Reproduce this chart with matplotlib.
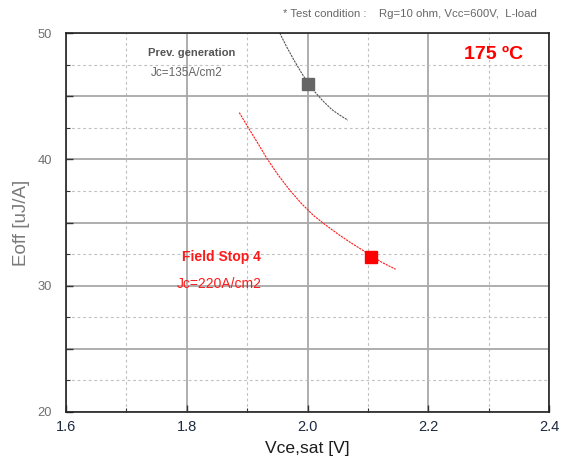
import numpy as np
import matplotlib.pyplot as plt
from matplotlib.ticker import MultipleLocator

plt.rcParams['font.family'] = ['Liberation Sans', 'DejaVu Sans']

# Eoff vs Vce,sat trade-off curves at 175 C
prev_v = [1.954, 1.965, 1.977, 1.990, 2.000, 2.012, 2.025, 2.040, 2.055, 2.067]
prev_e = [50.0, 48.95, 47.9, 46.85, 46.1, 45.35, 44.65, 43.95, 43.45, 43.1]
fs4_v = [1.887, 1.902, 1.918, 1.933, 1.950, 1.970, 1.990, 2.010, 2.030,
         2.050, 2.070, 2.090, 2.105, 2.125, 2.146]
fs4_e = [43.7, 42.5, 41.25, 40.05, 38.85, 37.6, 36.5, 35.55, 34.8,
         34.1, 33.45, 32.85, 32.35, 31.8, 31.3]

# operating points
prev_pt = (2.000, 46.0)
fs4_pt = (2.105, 32.3)

yticks = [20, 25, 30, 35, 40, 45, 50]
ylabels = ['20', '', '30', '', '40', '', '50']
xticks = [1.6, 1.8, 2.0, 2.2, 2.4]
xlabels = ['1.6', '1.8', '2.0', '2.2', '2.4']

fig = plt.figure(figsize=(5.66, 4.66), dpi=100)
ax = fig.add_axes([66/566, 1-412/466, 483/566, 379/466])

ax.set_xlim(1.6, 2.4)
ax.set_ylim(20, 50)
ax.set_xticks(xticks)
ax.set_xticklabels(xlabels)
ax.xaxis.set_minor_locator(MultipleLocator(0.1))
ax.set_yticks(yticks)
ax.set_yticklabels(ylabels)
ax.yaxis.set_minor_locator(MultipleLocator(2.5))

ax.grid(which='major', color='#a8a8a8', lw=1.3, ls='-')
ax.grid(which='minor', color='#c0c0c0', lw=0.8, ls=(0, (2.5, 2.5)))
ax.set_axisbelow(True)

ax.tick_params(axis='both', which='both', direction='in', color='#333333')
ax.tick_params(axis='both', which='major', length=5, width=1)
ax.tick_params(axis='both', which='minor', length=3, width=0.8)
ax.tick_params(axis='x', labelsize=10.5, labelcolor='#1c2a40', pad=6)
ax.tick_params(axis='y', labelsize=9.3, labelcolor='#707070', pad=10)
for s in ax.spines.values():
    s.set_color('#222222')
    s.set_linewidth(1.2)

ax.plot(prev_v, prev_e, color='#555555', lw=0.8, ls=(0, (2, 0.8)))
ax.plot(fs4_v, fs4_e, color='#ff1a1a', lw=0.8, ls=(0, (2, 0.8)))
ax.plot(*prev_pt, 's', color='#666666', ms=8, mec='#666666')
ax.plot(*fs4_pt, 's', color='#ff0000', ms=8, mec='#ff0000')

ax.text(1.808, 48.44, 'Prev. generation', color='#555555', fontsize=8.1,
        fontweight='bold', ha='center', va='center')
ax.text(1.80, 46.8, 'Jc=135A/cm2', color='#666666', fontsize=8.5,
        ha='center', va='center')
ax.text(1.857, 32.24, 'Field Stop 4', color='#ff1a1a', fontsize=10,
        fontweight='bold', ha='center', va='center')
ax.text(1.854, 30.1, 'Jc=220A/cm2', color='#ff1a1a', fontsize=10,
        ha='center', va='center')
ax.text(2.309, 48.26, '175 \u00baC', color='#ff0000', fontsize=14,
        fontweight='bold', ha='center', va='center')

fig.text(537/566, 1-14/466, '* Test condition :    Rg=10 ohm, Vcc=600V,  L-load',
         color='#666666', fontsize=8.2, ha='right', va='center')

ax.set_xlabel('Vce,sat [V]', fontsize=12.6, color='#1c1c1c', labelpad=5)
ax.set_ylabel('Eoff [uJ/A]', fontsize=13.5, color='#7a7a7a')
ax.yaxis.set_label_coords(-0.075, 0.5)

plt.savefig('out.png', dpi=100)
